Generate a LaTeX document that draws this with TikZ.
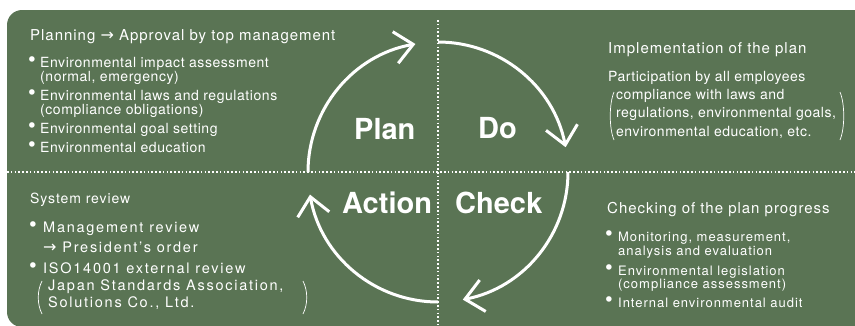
\documentclass[tikz,border=0pt]{standalone}
\usepackage{fontspec}
\setmainfont{TeX Gyre Heros}
\newfontfamily\tlf[LetterSpace=4]{TeX Gyre Heros}
\newfontfamily\hdf[LetterSpace=6.5]{TeX Gyre Heros}
\newfontfamily\trf[LetterSpace=3.5]{TeX Gyre Heros}
\newfontfamily\brf[LetterSpace=7.5]{TeX Gyre Heros}
\newfontfamily\wide[LetterSpace=12]{TeX Gyre Heros}
\newfontfamily\arrf{DejaVu Sans}
\usetikzlibrary{arrows.meta}
\definecolor{bg}{RGB}{90,116,84}
\begin{document}
\begin{tikzpicture}[x=1pt,y=-1pt,
  cyc/.style={white,line width=3pt,-{Straight Barb[length=18pt,width=32pt,line width=3pt]}},
  dots/.style={white,line width=1.6pt,dash pattern=on 1.6pt off 2.2pt},
  lbl/.style={anchor=base west,inner sep=0pt,text=white},
  head/.style={lbl,font=\hdf\fontsize{15}{15}\selectfont},
  tltext/.style={lbl,font=\tlf\fontsize{14}{14}\selectfont},
  trtext/.style={lbl,font=\trf\fontsize{14}{14}\selectfont},
  bltext/.style={lbl,font=\wide\fontsize{14.5}{14.5}\selectfont},
  brtext/.style={lbl,font=\brf\fontsize{13}{13}\selectfont},
  bul/.style={anchor=center,inner sep=0pt,text=white,font=\arrf\fontsize{19}{19}\selectfont},
  big/.style={lbl,font=\fontsize{29}{29}\selectfont\bfseries},
  paren/.style={white,line width=0.7pt}
]
\useasboundingbox (0,0) rectangle (855,325);
\begin{scope}
\clip (0,0) rectangle (855,325);
\fill[bg,rounded corners=15pt] (7,10) rectangle (890,327);
\end{scope}
% dotted dividers
\coordinate (vt) at (438,20);
\coordinate (vb) at (438,325);
\coordinate (hl) at (7,172);
\coordinate (hr) at (855,172);
\draw[dots] (vt) -- (vb);
\draw[dots] (hl) -- (hr);
% cycle arcs
\coordinate (c) at (438,172);
\draw[cyc] (c) ++(180:130) arc[start angle=180,end angle=260,radius=130];
\draw[cyc] (c) ++(270:130) arc[start angle=270,end angle=349,radius=130];
\draw[cyc] (c) ++(0:130) arc[start angle=0,end angle=79,radius=130];
\draw[cyc] (c) ++(90:130) arc[start angle=90,end angle=170,radius=130];
% big labels
\node[big] (plan) at (354,139) {Plan};
\node[big] (do) at (478,138) {Do};
\node[big] (action) at (342,213) {Action};
\node[big] (check) at (455,213) {Check};
% top-left
\node[lbl,font=\hdf\fontsize{15}{15}\selectfont] (tlh) at (30,40) {Planning {\arrf\fontsize{16}{16}\selectfont →} Approval by top management};
\node[bul] (tlb1) at (32,62) {•};
\node[tltext] (tl1) at (40,67) {Environmental impact assessment};
\node[tltext] (tl2) at (40,81) {(normal, emergency)};
\node[bul] (tlb2) at (32,95) {•};
\node[tltext] (tl3) at (40,100) {Environmental laws and regulations};
\node[tltext] (tl4) at (40,114) {(compliance obligations)};
\node[bul] (tlb3) at (32,128) {•};
\node[tltext] (tl5) at (40,133) {Environmental goal setting};
\node[bul] (tlb4) at (32,147) {•};
\node[tltext] (tl6) at (40,152) {Environmental education};
% top-right
\node[head] (trh) at (608,53) {Implementation of the plan};
\node[trtext] (tr1) at (608,81) {Participation by all employees};
\node[trtext] (tr2) at (616,99) {compliance with laws and};
\node[trtext] (tr3) at (616,117) {regulations, environmental goals,};
\node[trtext] (tr4) at (616,136) {environmental education, etc.};
\draw[paren] (614,92) .. controls (609,104) and (609,128) .. (614,140);
\draw[paren] (840,92) .. controls (845,104) and (845,128) .. (840,140);
% bottom-left
\node[lbl,font=\hdf\fontsize{14}{14}\selectfont] (blh) at (30,203) {System review};
\node[bul] (blb1) at (33,227) {•};
\node[bltext] (bl1) at (43,232) {Management review};
\node[bltext] (bl2) at (43,252) {{\arrf\fontsize{16}{16}\selectfont →} President’s order};
\node[bul] (blb2) at (33,268) {•};
\node[bltext] (bl3) at (43,273) {ISO14001 external review};
\node[bltext] (bl4) at (48,290) {Japan Standards Association,};
\node[bltext] (bl5) at (48,307) {Solutions Co., Ltd.};
\draw[paren] (42,281) .. controls (37,291) and (37,304) .. (42,314);
\draw[paren] (303,281) .. controls (308,291) and (308,304) .. (303,314);
% bottom-right
\node[head] (brh) at (607,213) {Checking of the plan progress};
\node[bul] (brb1) at (609,236) {•};
\node[brtext] (br1) at (618,241) {Monitoring, measurement,};
\node[brtext] (br2) at (618,255) {analysis and evaluation};
\node[bul] (brb2) at (609,270) {•};
\node[brtext] (br3) at (618,275) {Environmental legislation};
\node[brtext] (br4) at (618,288) {(compliance assessment)};
\node[bul] (brb3) at (609,302) {•};
\node[brtext] (br5) at (618,307) {Internal environmental audit};
\end{tikzpicture}
\end{document}
